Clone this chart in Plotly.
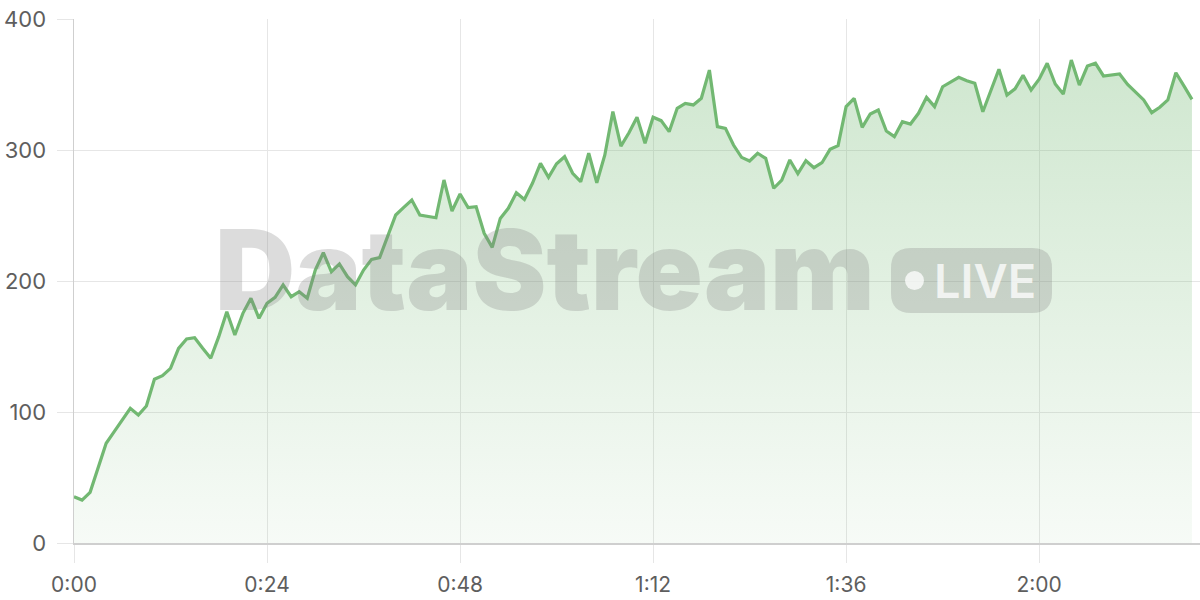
import plotly.graph_objects as go

seconds = list(range(140))
values = [
    35.3, 32.8, 38.7, 58.3, 76.1, 85.0, 93.4, 102.8, 97.7, 104.6,
    125.0, 127.7, 133.3, 148.6, 155.7, 156.7, 148.6, 141.0, 157.5, 176.6,
    158.8, 175.3, 186.8, 171.5, 183.0, 187.5, 197.0, 188.0, 191.8, 186.8,
    208.4, 221.6, 207.1, 213.0, 203.3, 197.0, 208.4, 216.5, 217.8, 233.8,
    250.4, 256.2, 261.8, 250.4, 249.6, 248.3, 277.1, 253.4, 266.4, 256.0,
    256.7, 236.4, 225.7, 247.8, 255.5, 267.4, 262.3, 274.6, 289.8, 279.2,
    289.5, 294.9, 282.2, 275.8, 297.5, 275.0, 296.2, 329.3, 303.0, 313.2,
    325.0, 305.1, 325.0, 322.4, 314.0, 331.8, 335.6, 334.4, 339.5, 361.0,
    317.8, 316.5, 303.8, 294.4, 291.6, 297.5, 293.6, 270.8, 277.1, 292.4,
    281.9, 291.8, 286.5, 290.3, 300.5, 303.3, 333.1, 339.4, 317.3, 327.5,
    330.5, 314.5, 310.2, 321.6, 319.8, 328.0, 340.2, 333.1, 348.3, 352.2,
    355.5, 352.9, 350.9, 329.2, 345.8, 361.6, 342.0, 346.7, 357.0, 345.8,
    354.0, 366.2, 350.4, 342.7, 368.7, 349.6, 364.1, 366.2, 356.5, 357.3,
    358.0, 350.1, 344.5, 338.2, 328.5, 332.6, 338.2, 359.0, 348.9, 338.7,
]
tick_seconds = [0, 24, 48, 72, 96, 120]
tick_labels = ["0:00", "0:24", "0:48", "1:12", "1:36", "2:00"]
y_ticks = [0, 100, 200, 300, 400]

LINE = "#72b872"
GRID = "#e6e6e6"
AXIS = "#cfcfcf"
TXT = "#5e5e5e"
WM = "rgba(128,128,128,0.28)"

fig = go.Figure()
fig.add_trace(go.Scatter(
    x=seconds, y=values, mode="lines",
    line=dict(color=LINE, width=3.2),
    fill="tozeroy",
    fillgradient=dict(
        type="vertical",
        colorscale=[[0, "rgba(114,184,114,0.06)"], [1, "rgba(114,184,114,0.34)"]],
        start=0, stop=370,
    ),
    hoverinfo="skip",
))

L, R, T, B = 74, 0, 19, 57
W, H = 1200, 600
pw, ph = W - L - R, H - T - B

def px(x):
    return (x - L) / pw

def py(y):
    return (H - B - y) / ph

# Watermark text
fig.add_annotation(
    text="DataStream", xref="paper", yref="paper",
    x=px(545), y=py(269), xanchor="center", yanchor="middle",
    showarrow=False, font=dict(family="Inter", size=111, weight=900, color=WM),
)

# LIVE badge (rounded rectangle)
bx0, bx1, by0, by1, r = 891, 1052, 248, 313, 20
path = (
    f"M {px(bx0 + r)},{py(by0)} L {px(bx1 - r)},{py(by0)} "
    f"Q {px(bx1)},{py(by0)} {px(bx1)},{py(by0 + r)} "
    f"L {px(bx1)},{py(by1 - r)} Q {px(bx1)},{py(by1)} {px(bx1 - r)},{py(by1)} "
    f"L {px(bx0 + r)},{py(by1)} Q {px(bx0)},{py(by1)} {px(bx0)},{py(by1 - r)} "
    f"L {px(bx0)},{py(by0 + r)} Q {px(bx0)},{py(by0)} {px(bx0 + r)},{py(by0)} Z"
)
fig.add_shape(type="path", path=path, xref="paper", yref="paper",
              fillcolor=WM, line=dict(width=0), layer="above")
fig.add_shape(type="circle", xref="paper", yref="paper",
              x0=px(905), x1=px(924), y0=py(271), y1=py(290),
              fillcolor="rgba(255,255,255,0.75)", line=dict(width=0), layer="above")
fig.add_annotation(
    text="LIVE", xref="paper", yref="paper",
    x=px(985), y=py(280), xanchor="center", yanchor="middle",
    showarrow=False, font=dict(family="Inter", size=47, weight=600, color="rgba(255,255,255,0.75)"),
)

fig.update_layout(
    width=W, height=H,
    margin=dict(l=L, r=R, t=T, b=B, pad=0, autoexpand=False),
    plot_bgcolor="white", paper_bgcolor="white",
    showlegend=False,
    font=dict(family="Inter", size=21, color=TXT),
    xaxis=dict(
        range=[0, 140], tickmode="array", tickvals=tick_seconds, ticktext=tick_labels,
        showgrid=True, gridcolor=GRID, gridwidth=1,
        ticks="outside", ticklen=18, tickcolor=GRID, tickwidth=1,
        showline=True, linecolor=AXIS, linewidth=1.5, zeroline=False,
        tickfont=dict(size=21, color=TXT), ticklabelstandoff=4,
        automargin=False, fixedrange=True,
    ),
    yaxis=dict(
        range=[0, 400], tickmode="array", tickvals=y_ticks,
        showgrid=True, gridcolor=GRID, gridwidth=1,
        ticks="outside", ticklen=16, tickcolor=GRID, tickwidth=1,
        showline=True, linecolor=AXIS, linewidth=1.5, zeroline=False,
        tickfont=dict(size=22, color=TXT), ticklabelstandoff=6,
        automargin=False, fixedrange=True,
    ),
)

fig.write_html(
    "out.html",
    config={"displayModeBar": False, "staticPlot": True},
    post_script="document.body.style.margin='0';document.body.style.overflow='hidden';",
)
